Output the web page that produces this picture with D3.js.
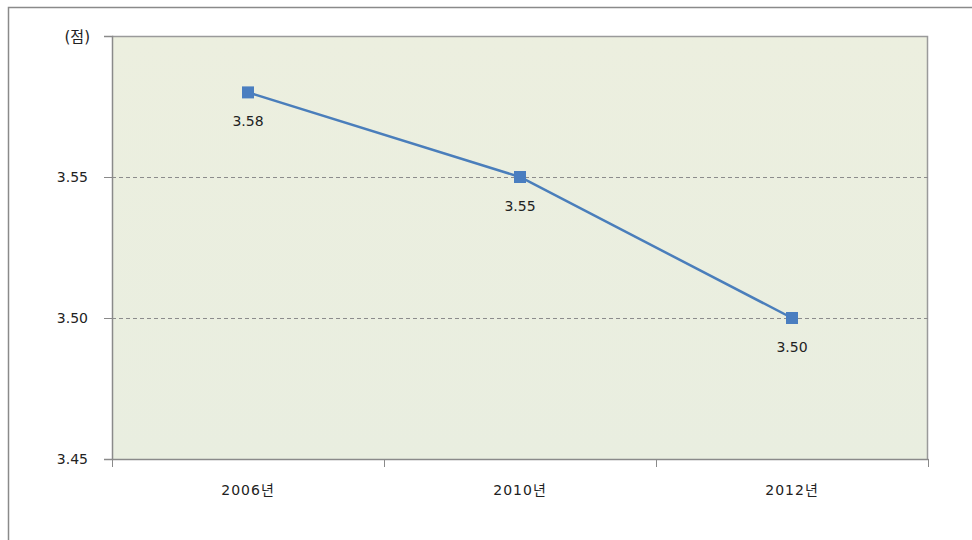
<!DOCTYPE html>
<html>
<head>
<meta charset="utf-8">
<script src="https://cdn.jsdelivr.net/npm/d3@7"></script>
<style>
  html, body { margin: 0; padding: 0; background: #fff; }
  svg { display: block; }
  text { font-family: "DejaVu Sans", "Noto Sans CJK KR", sans-serif; fill: #222; }
</style>
</head>
<body>
<svg id="chart" width="972" height="540"></svg>
<script>
// Average score by survey year
const years = ["2006년", "2010년", "2012년"];
const scores = [3.58, 3.55, 3.50];
const yTicks = [3.45, 3.50, 3.55, 3.60];
const yTickLabels = ["3.45", "3.50", "3.55", ""];
const unitLabel = "(점)";

const svg = d3.select("#chart");
const plot = { left: 112, right: 928, top: 36, bottom: 459 };

const x = d3.scaleBand().domain(years).range([plot.left, plot.right]);
const y = d3.scaleLinear().domain([3.45, 3.60]).range([plot.bottom, plot.top]);

// outer frame
svg.append("rect")
  .attr("x", 8.5).attr("y", 7.5).attr("width", 980).attr("height", 560)
  .attr("fill", "none").attr("stroke", "#8a8a8a").attr("stroke-width", 1.5);

// plot background
const defs = svg.append("defs");
const grad = defs.append("linearGradient").attr("id", "bg").attr("x1", 0).attr("y1", 0).attr("x2", 0).attr("y2", 1);
grad.append("stop").attr("offset", "0%").attr("stop-color", "#ECEFDF");
grad.append("stop").attr("offset", "100%").attr("stop-color", "#E9EEE0");
svg.append("rect")
  .attr("x", plot.left).attr("y", plot.top)
  .attr("width", plot.right - plot.left).attr("height", plot.bottom - plot.top)
  .attr("fill", "url(#bg)");

// top and right border of the plot area
svg.append("path")
  .attr("d", `M${plot.left},${plot.top + 0.5}H${plot.right - 0.5}V${plot.bottom}`)
  .attr("fill", "none").attr("stroke", "#9a9a9a").attr("stroke-width", 1.5);

// dashed gridlines
svg.append("g").selectAll("line")
  .data(yTicks.filter(v => v > 3.45 && v < 3.60))
  .join("line")
  .attr("x1", plot.left).attr("x2", plot.right)
  .attr("y1", d => Math.round(y(d)) + 0.5).attr("y2", d => Math.round(y(d)) + 0.5)
  .attr("stroke", "#8c8c8c").attr("stroke-dasharray", "4,3");

// y axis
const yAxis = d3.axisLeft(y).tickValues(yTicks)
  .tickFormat((d, i) => yTickLabels[i]).tickSize(8).tickPadding(16);
const gy = svg.append("g").attr("transform", `translate(${plot.left},0)`).call(yAxis);
gy.select(".domain").attr("stroke", "#8a8a8a").attr("stroke-width", 1.5);
gy.selectAll(".tick line").attr("stroke", "#8a8a8a");
gy.selectAll(".tick text").attr("font-size", 14)
  .style("font-family", "'DejaVu Sans', sans-serif").attr("fill", "#222");

// x axis with ticks on band boundaries
const xAxis = d3.axisBottom(x).tickSize(0).tickPadding(0);
const gx = svg.append("g").attr("transform", `translate(0,${plot.bottom})`).call(xAxis);
gx.select(".domain").attr("stroke", "#8a8a8a").attr("stroke-width", 1.5);
gx.selectAll(".tick text").attr("font-size", 14).attr("fill", "#222")
  .attr("dy", null).attr("y", 36).attr("letter-spacing", 1);
const bounds = years.map(d => x(d)).concat([x(years[years.length - 1]) + x.bandwidth()]);
gx.selectAll(".bound").data(bounds).join("line")
  .attr("x1", d => Math.round(d) + 0.5).attr("x2", d => Math.round(d) + 0.5)
  .attr("y1", 0).attr("y2", 8)
  .attr("stroke", "#8a8a8a");

// unit label
svg.append("text").attr("x", 90).attr("y", 42).attr("text-anchor", "end")
  .attr("font-size", 15).text(unitLabel);

// series line
const pts = years.map((d, i) => ({ year: d, v: scores[i] }));
const cx = d => x(d.year) + x.bandwidth() / 2;
svg.append("path").datum(pts)
  .attr("d", d3.line().x(cx).y(d => y(d.v)))
  .attr("fill", "none").attr("stroke", "#4A7EBB").attr("stroke-width", 2.5);

// markers
svg.append("g").selectAll("rect").data(pts).join("rect")
  .attr("x", d => cx(d) - 6).attr("y", d => y(d.v) - 6)
  .attr("width", 12).attr("height", 12)
  .attr("fill", "#4A7EC0");

// value labels
svg.append("g").selectAll("text").data(pts).join("text")
  .attr("x", cx).attr("y", d => y(d.v) + 34)
  .attr("text-anchor", "middle").attr("font-size", 14)
  .text(d => d.v.toFixed(2));
</script>
</body>
</html>
